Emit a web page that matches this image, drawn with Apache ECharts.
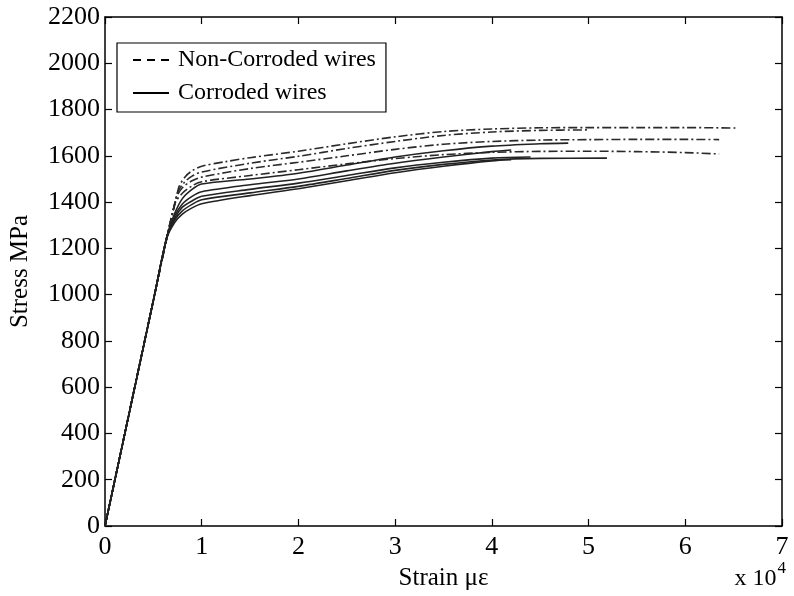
<!DOCTYPE html>
<html>
<head>
<meta charset="utf-8">
<script src="https://cdn.jsdelivr.net/npm/echarts@6/dist/echarts.min.js"></script>
<style>html,body{margin:0;padding:0;background:#fff;}#c{width:794px;height:596px;}</style>
</head>
<body>
<div id="c"></div>
<script>
// ---- data (strain in x10^4 µε, stress in MPa) ----
const xTicks = [0, 1, 2, 3, 4, 5, 6, 7];
const yTicks = [0, 200, 400, 600, 800, 1000, 1200, 1400, 1600, 1800, 2000, 2200];

// Non-corroded wires
const strainN1 = [0, 0.5, 0.76, 0.83, 0.9, 1.0, 1.25, 1.5, 2.0, 2.5, 3.0, 3.5, 4.0, 4.5, 5.0, 5.5, 6.0, 6.54];
const stressN1 = [0, 975, 1460, 1510, 1535, 1555, 1575, 1592, 1620, 1652, 1682, 1705, 1716, 1721, 1722, 1722, 1722, 1720];
const strainN2 = [0, 0.5, 0.75, 0.82, 0.9, 1.0, 1.5, 2.0, 2.5, 3.0, 3.5, 4.0, 4.5, 5.0];
const stressN2 = [0, 975, 1440, 1485, 1512, 1530, 1568, 1598, 1632, 1662, 1688, 1703, 1710, 1712];
const strainN3 = [0, 0.5, 0.74, 0.8, 0.9, 1.0, 1.5, 2.0, 2.5, 3.0, 3.5, 4.0, 4.5, 5.0, 5.5, 6.0, 6.35];
const stressN3 = [0, 975, 1420, 1462, 1492, 1508, 1545, 1572, 1600, 1628, 1650, 1662, 1668, 1670, 1671, 1671, 1670];
const strainN4 = [0, 0.5, 0.72, 0.8, 0.9, 1.0, 1.5, 2.0, 2.5, 3.0, 3.5, 4.0, 4.5, 5.0, 5.5, 6.0, 6.35];
const stressN4 = [0, 975, 1390, 1438, 1470, 1488, 1515, 1540, 1565, 1588, 1605, 1615, 1619, 1620, 1618, 1614, 1608];

// Corroded wires
const strainC1 = [0, 0.5, 0.64, 0.72, 0.8, 0.9, 1.0, 1.5, 2.0, 2.5, 3.0, 3.5, 4.0, 4.5, 4.79];
const stressC1 = [0, 975, 1250, 1350, 1415, 1455, 1478, 1500, 1525, 1560, 1595, 1622, 1642, 1652, 1655];
const strainC2 = [0, 0.5, 0.64, 0.72, 0.8, 0.9, 1.0, 1.5, 2.0, 2.5, 3.0, 3.5, 4.0, 4.2];
const stressC2 = [0, 975, 1250, 1340, 1392, 1425, 1445, 1475, 1500, 1535, 1568, 1595, 1618, 1625];
const strainC3 = [0, 0.5, 0.64, 0.72, 0.8, 0.9, 1.0, 1.5, 2.0, 2.5, 3.0, 3.5, 4.0, 4.4];
const stressC3 = [0, 975, 1250, 1330, 1378, 1405, 1425, 1455, 1482, 1515, 1548, 1572, 1590, 1595];
const strainC4 = [0, 0.5, 0.64, 0.72, 0.8, 0.9, 1.0, 1.5, 2.0, 2.5, 3.0, 3.5, 4.0, 4.5, 5.19];
const stressC4 = [0, 975, 1248, 1322, 1362, 1390, 1410, 1440, 1468, 1502, 1537, 1563, 1582, 1589, 1590];
const strainC5 = [0, 0.5, 0.64, 0.72, 0.8, 0.9, 1.0, 1.5, 2.0, 2.5, 3.0, 3.5, 4.0, 4.2];
const stressC5 = [0, 972, 1245, 1312, 1348, 1375, 1393, 1428, 1458, 1492, 1527, 1555, 1578, 1583];

const legendNames = ['Non-Corroded wires', 'Corroded wires'];
const xName = 'Strain με';
const yName = 'Stress MPa';

// ---- chart ----
const FONT = 'Liberation Serif';
const zip = (xs, ys) => xs.map((x, i) => [x, ys[i]]);
const nonCorroded = [[strainN1, stressN1], [strainN2, stressN2], [strainN3, stressN3], [strainN4, stressN4]];
const corroded = [[strainC1, stressC1], [strainC2, stressC2], [strainC3, stressC3], [strainC4, stressC4], [strainC5, stressC5]];

const series = [];
series.push({ name: legendNames[0], type: 'line', data: [], symbol: 'none', symbolSize: 0,
  lineStyle: { color: '#000', width: 1, type: [8, 6] }, itemStyle: { color: '#000', opacity: 0 } });
series.push({ name: legendNames[1], type: 'line', data: [], symbol: 'none', symbolSize: 0,
  lineStyle: { color: '#000', width: 1, type: 'solid' }, itemStyle: { color: '#000', opacity: 0 } });
nonCorroded.forEach((c, i) => series.push({
  name: 'N' + (i + 1), type: 'line', data: zip(c[0], c[1]), symbol: 'none',
  smooth: 0.3, silent: true,
  lineStyle: { color: '#2a2a2a', width: 1.6, type: [9, 3, 2, 3] }
}));
corroded.forEach((c, i) => series.push({
  name: 'C' + (i + 1), type: 'line', data: zip(c[0], c[1]), symbol: 'none',
  smooth: 0.3, silent: true,
  lineStyle: { color: '#222', width: 1.6, type: 'solid' }
}));

const axisLine = { show: true, onZero: false, lineStyle: { color: '#000', width: 1.5 } };
const axisTick = { show: true, inside: true, length: 7, lineStyle: { color: '#000', width: 1.2 } };
const labelStyle = { color: '#000', fontFamily: FONT, fontSize: 26, formatter: v => String(v) };

const chart = echarts.init(document.getElementById('c'), null, { renderer: 'canvas' });
chart.setOption({
  animation: false,
  backgroundColor: '#fff',
  grid: { left: 95, right: 12, top: 17, bottom: 69, containLabel: false },
  legend: {
    data: legendNames, orient: 'vertical', left: 117, top: 43,
    itemWidth: 36, itemHeight: 24, itemGap: 9,
    padding: [5, 10, 7, 15],
    backgroundColor: '#fff', borderColor: '#000', borderWidth: 1.2,
    selectedMode: false,
    itemStyle: { opacity: 0, borderWidth: 0 },
    lineStyle: { inherit: true },
    textStyle: { color: '#000', fontFamily: FONT, fontSize: 24, padding: [0, 0, 0, 4] }
  },
  xAxis: [
    { type: 'value', min: xTicks[0], max: xTicks[xTicks.length - 1], interval: 1,
      axisLine, axisTick, splitLine: { show: false },
      axisLabel: Object.assign({ margin: 8 }, labelStyle),
      name: xName, nameLocation: 'middle', nameGap: 40,
      nameTextStyle: { color: '#000', fontFamily: FONT, fontSize: 25 } },
    { type: 'value', position: 'top', min: xTicks[0], max: xTicks[xTicks.length - 1], interval: 1,
      axisLine, axisTick, splitLine: { show: false }, axisLabel: { show: false } }
  ],
  yAxis: [
    { type: 'value', min: yTicks[0], max: yTicks[yTicks.length - 1], interval: 200,
      axisLine, axisTick, splitLine: { show: false },
      axisLabel: Object.assign({ margin: 5 }, labelStyle),
      name: yName, nameLocation: 'middle', nameGap: 72,
      nameTextStyle: { color: '#000', fontFamily: FONT, fontSize: 25 } },
    { type: 'value', position: 'right', min: yTicks[0], max: yTicks[yTicks.length - 1], interval: 200,
      axisLine, axisTick, splitLine: { show: false }, axisLabel: { show: false } }
  ],
  graphic: [{
    type: 'text', right: 8, bottom: 5,
    style: {
      text: '{b|x 10}{s|4}', fill: '#000',
      rich: {
        b: { fontFamily: FONT, fontSize: 24, fill: '#000', verticalAlign: 'bottom' },
        s: { fontFamily: FONT, fontSize: 17, fill: '#000', verticalAlign: 'top', padding: [0, 0, 14, 1] }
      }
    }
  }],
  series
});
</script>
</body>
</html>
